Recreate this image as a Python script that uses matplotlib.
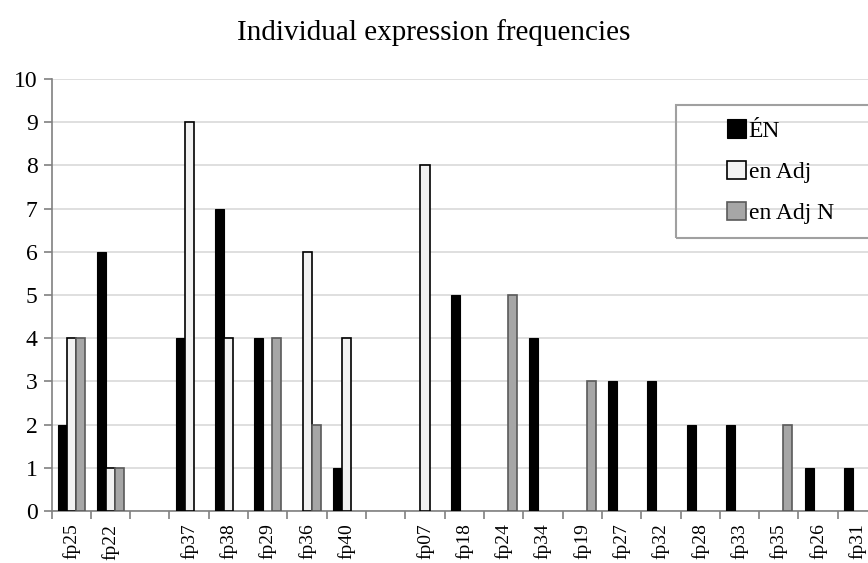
import matplotlib
matplotlib.use('Agg')
import matplotlib.pyplot as plt
import numpy as np
from matplotlib.patches import Rectangle

plt.rcParams['font.family'] = ['Liberation Serif', 'DejaVu Serif']

categories = ['fp25', 'fp22', '', 'fp37', 'fp38', 'fp29', 'fp36', 'fp40', '',
              'fp07', 'fp18', 'fp24', 'fp34', 'fp19', 'fp27', 'fp32', 'fp28',
              'fp33', 'fp35', 'fp26', 'fp31']
en_N = [2, 6, 0, 4, 7, 4, 0, 1, 0, 0, 5, 0, 4, 0, 3, 3, 2, 2, 0, 1, 1]
en_adj = [4, 1, 0, 9, 4, 0, 6, 4, 0, 8, 0, 0, 0, 0, 0, 0, 0, 0, 0, 0, 0]
en_adj_n = [4, 1, 0, 0, 0, 4, 2, 0, 0, 0, 0, 5, 0, 3, 0, 0, 0, 0, 2, 0, 0]


def nz(vals):
    # empty cells draw nothing (no flat outline at zero)
    return [v if v else np.nan for v in vals]


W, H = 868, 563
fig = plt.figure(figsize=(W / 100, H / 100), dpi=100)
ax = fig.add_axes([51.5 / W, 52 / H, 825.6 / W, 432 / H])

x = np.arange(len(categories))
bw = 0.23
ax.bar(x - bw, nz(en_N), bw, color='black', edgecolor='black', lw=0.8, label='ÉN', zorder=3)
ax.bar(x, nz(en_adj), bw, color='#f2f2f2', edgecolor='black', lw=1.2, label='en Adj', zorder=3)
ax.bar(x + bw, nz(en_adj_n), bw, color='#a6a6a6', edgecolor='#5a5a5a', lw=1.2, label='en Adj N', zorder=3)

ax.set_xlim(-0.5, len(categories) - 0.5)
ax.set_ylim(0, 10)
ax.set_yticks(range(0, 11))
ax.yaxis.grid(True, color='#d9d9d9', lw=1.2)
ax.set_axisbelow(True)

ax.set_xticks(x)
ax.set_xticklabels(categories, rotation=90, fontsize=14)
ax.set_xticks(np.arange(len(categories) + 1) - 0.5, minor=True)
ax.tick_params(axis='x', which='major', length=0, pad=9)
ax.tick_params(axis='x', which='minor', length=6, color='#808080', width=1.2)
ax.tick_params(axis='y', length=6, color='#808080', width=1.2, labelsize=17, pad=4)

for s in ['top', 'right']:
    ax.spines[s].set_visible(False)
ax.spines['left'].set_color('#808080')
ax.spines['bottom'].set_color('#808080')
ax.spines['left'].set_linewidth(1.2)
ax.spines['bottom'].set_linewidth(1.2)

fig.text(0.5, 1 - 33 / H, 'Individual expression frequencies', ha='center', va='center', fontsize=21)

# legend frame runs off the right edge like the original
fig.patches.append(Rectangle((676 / W, 1 - 238 / H), 220 / W, 133 / H,
                             transform=fig.transFigure, fill=False,
                             edgecolor='#a0a0a0', lw=1.5))
leg = fig.legend(loc='upper left', bbox_to_anchor=(718 / W, 1 - 110 / H), frameon=False,
                 fontsize=17, handlelength=0.8, handleheight=0.8, handletextpad=0.1,
                 labelspacing=0.8, borderaxespad=0)

fig.savefig('out.png', dpi=100)
